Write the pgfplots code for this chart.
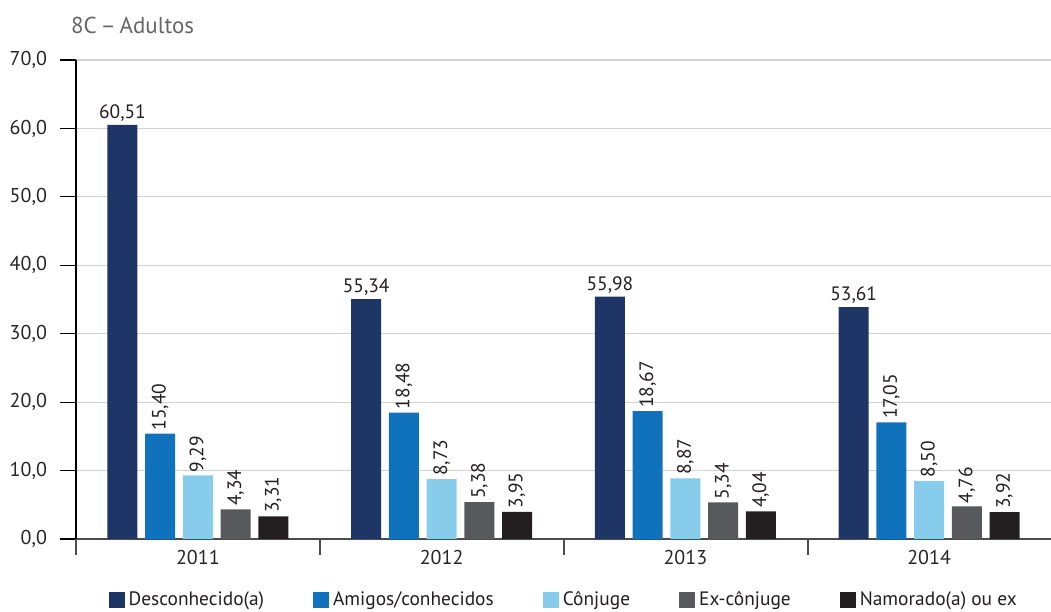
\documentclass[border=0pt]{standalone}
\usepackage{pgfplots}
\pgfplotsset{compat=1.18}
\usepackage{pgfplotstable}
\usepackage{fontspec}
\setmainfont{PT Sans}
\definecolor{cA}{HTML}{1F3566}
\definecolor{cB}{HTML}{1172BC}
\definecolor{cC}{HTML}{87CDEB}
\definecolor{cD}{HTML}{58595B}
\definecolor{cE}{HTML}{231F20}
\definecolor{txt}{HTML}{231F20}

\pgfplotstableread{
x y lab
0 60.51 60,51
1 35.04 55,34
2 35.43 55,98
3 33.87 53,61
}\tabA
\pgfplotstableread{
x y lab
0 15.40 15,40
1 18.48 18,48
2 18.67 18,67
3 17.05 17,05
}\tabB
\pgfplotstableread{
x y lab
0 9.29 9,29
1 8.73 8,73
2 8.87 8,87
3 8.50 8,50
}\tabC
\pgfplotstableread{
x y lab
0 4.34 4,34
1 5.38 5,38
2 5.34 5,34
3 4.76 4,76
}\tabD
\pgfplotstableread{
x y lab
0 3.31 3,31
1 3.95 3,95
2 4.04 4,04
3 3.92 3,92
}\tabE

\begin{document}
\begin{tikzpicture}
\begin{axis}[
  name=ax,
  scale only axis, width=487.5pt, height=239.5pt,
  xmin=-0.5, xmax=3.5, ymin=0, ymax=70,
  ybar=3.85pt, bar width=15pt,
  axis lines=left, axis line style={-},
  x axis line style={draw=black!70, line width=1pt},
  y axis line style={draw=black, line width=0.6pt},
  ytick={0,10,...,70},
  ymajorgrids, grid style={draw=black!18, line width=0.6pt},
  /pgf/number format/.cd, fixed, fixed zerofill, precision=1, use comma, assume math mode=true, /pgfplots/.cd,
  tick align=outside, major tick length=8pt,
  ytick style={draw=black, line width=0.6pt},
  xtick={0,1,2,3}, xticklabels={2011,2012,2013,2014},
  xtick style={draw=none},
  tick label style={font=\fontsize{10}{12}\selectfont, text=black!85},
  yticklabel style={xshift=-3pt},
  xticklabel style={yshift=6pt},
  nodes near coords, point meta=explicit symbolic,
  every node near coord/.append style={font=\fontsize{9.7}{11}\selectfont, text=txt, inner sep=1.5pt},
  legend columns=5,
  legend style={draw=none, at={(0.033,-0.127)}, anchor=west, inner sep=0pt,
    font=\fontsize{9.7}{11}\selectfont, text=txt,
    /tikz/every even column/.append style={column sep=22.5pt}},
  legend image code/.code={\fill[#1, draw=none] (0pt,-4pt) rectangle (8pt,4pt);},
]
\addplot[fill=cA, draw=none] table[x=x, y=y, meta=lab] {\tabA};
\addlegendentry{Desconhecido(a)}
\addplot[fill=cB, draw=none, every node near coord/.append style={rotate=90, anchor=west}] table[x=x, y=y, meta=lab] {\tabB};
\addlegendentry{Amigos/conhecidos}
\addplot[fill=cC, draw=none, every node near coord/.append style={rotate=90, anchor=west}] table[x=x, y=y, meta=lab] {\tabC};
\addlegendentry{Cônjuge}
\addplot[fill=cD, draw=none, every node near coord/.append style={rotate=90, anchor=west}] table[x=x, y=y, meta=lab] {\tabD};
\addlegendentry{Ex-cônjuge}
\addplot[fill=cE, draw=none, every node near coord/.append style={rotate=90, anchor=west}] table[x=x, y=y, meta=lab] {\tabE};
\addlegendentry{Namorado(a) ou ex}
\end{axis}
\foreach \s in {0,122,244,366} {
  \draw[black!70, line width=0.6pt] ([xshift=\s pt]ax.south west) -- ++(0,-8pt);
}
\node[anchor=west, font=\fontsize{11.5}{13}\selectfont, text=black!60] at ([shift={(-6pt,17.5pt)}]ax.north west) {8C\,–\,Adultos};
\pgfresetboundingbox
\useasboundingbox ([shift={(-38pt,-36.5pt)}]ax.south west) rectangle ([shift={(487.5pt,30pt)}]ax.north west);
\end{tikzpicture}
\end{document}
